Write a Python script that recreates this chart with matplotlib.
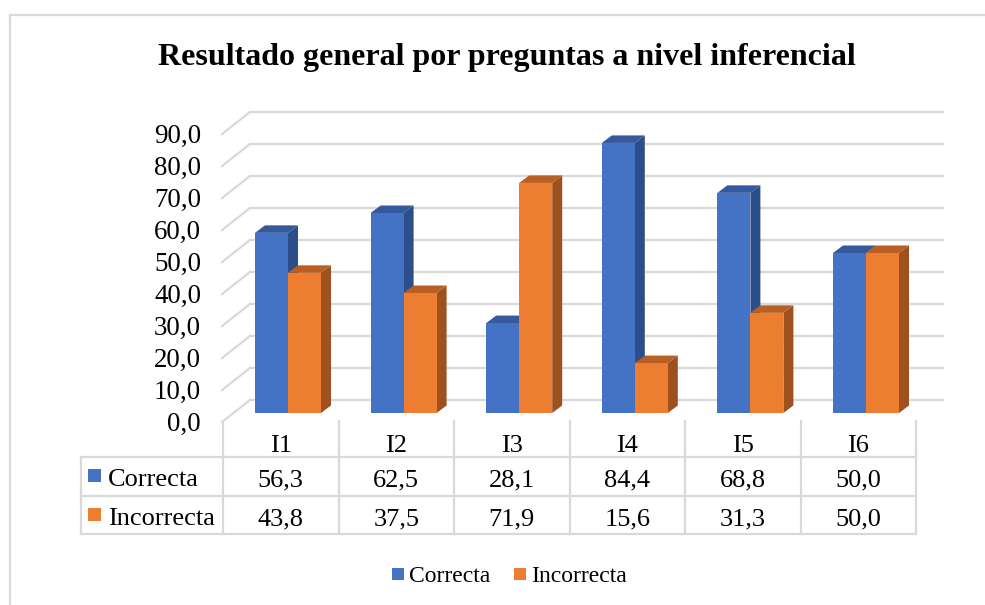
import matplotlib.pyplot as plt
from matplotlib.patches import Polygon, Rectangle

# data
categories = ['I1', 'I2', 'I3', 'I4', 'I5', 'I6']
correcta = [56.3, 62.5, 28.1, 84.4, 68.8, 50.0]
incorrecta = [43.8, 37.5, 71.9, 15.6, 31.3, 50.0]
series_names = ['Correcta', 'Incorrecta']
yticks = [0, 10, 20, 30, 40, 50, 60, 70, 80, 90]
title = 'Resultado general por preguntas a nivel inferencial'

# colours (front, side, top)
BLUE, BLUE_SIDE, BLUE_TOP = '#4472C4', '#2C4E8A', '#35599C'
ORANGE, ORANGE_SIDE, ORANGE_TOP = '#ED7D31', '#9E511F', '#B95F24'
GRID = '#D9D9D9'

plt.rcParams['font.family'] = ['Liberation Serif', 'DejaVu Serif']


def fmt(v):
    return f'{v:.1f}'.replace('.', ',')


W, H = 985, 605
fig = plt.figure(figsize=(W / 100, H / 100), dpi=100)

# overlay in pixel units for frame, title, table and legend
over = fig.add_axes([0, 0, 1, 1])
over.set_xlim(0, W)
over.set_ylim(H, 0)
over.axis('off')

# bar axes
x0, x1 = 230.2, 923.8
ytop, ybase = 125, 413
ax = fig.add_axes([x0 / W, (H - ybase) / H, (x1 - x0) / W, (ybase - ytop) / H])
ax.set_xlim(-0.5, len(categories) - 0.5)
ax.set_ylim(0, 90)
ax.axis('off')
ux = (x1 - x0) / len(categories)   # px per category
uy = (ybase - ytop) / 90           # px per value unit


def px2x(p):
    return -0.5 + (p - x0) / ux


# walls / gridlines (pseudo 3D)
xfl, xbl, xbr = px2x(222), px2x(250), px2x(943)
for v in yticks:
    yb = v + 13 / uy
    yf = v - 9 / uy
    ax.plot([xbl, xbr], [yb, yb], color=GRID, lw=1.6, zorder=0, clip_on=False)
    ax.plot([xfl, xbl], [yf, yb], color=GRID, lw=1.6, zorder=0, clip_on=False)
    ax.text(px2x(201), v - 17.5 / uy, fmt(v), ha='right', va='baseline',
            fontsize=19.4, clip_on=False)

# bars
w = 33 / ux
ddx, ddy = 10 / ux, 7.5 / uy
idx = list(range(len(categories)))
series = [(correcta, -w / 2, BLUE, BLUE_SIDE, BLUE_TOP, 2),
          (incorrecta, w / 2, ORANGE, ORANGE_SIDE, ORANGE_TOP, 5)]
for vals, off, c_front, c_side, c_top, z in series:
    for i, v in zip(idx, vals):
        xl, xr = i + off - w / 2, i + off + w / 2
        ax.add_patch(Polygon([(xr, 0), (xr, v), (xr + ddx, v + ddy), (xr + ddx, ddy)],
                             closed=True, facecolor=c_side, edgecolor='none',
                             zorder=z, clip_on=False))
        ax.add_patch(Polygon([(xl, v), (xr, v), (xr + ddx, v + ddy), (xl + ddx, v + ddy)],
                             closed=True, facecolor=c_top, edgecolor='none',
                             zorder=z, clip_on=False))
    ax.bar([i + off for i in idx], vals, w, color=c_front, zorder=z + 1, clip_on=False)

# frame
over.plot([10, W], [15, 15], color=GRID, lw=1.6)
over.plot([10, 10], [15, H], color=GRID, lw=1.6)

# title
over.text(506.5, 65, title, ha='center', va='baseline', fontsize=23,
          fontweight='bold')

# data table
col_edges = [223 + k * 115.5 for k in range(len(categories) + 1)]
for y in [457, 496, 534]:
    over.plot([81, col_edges[-1]], [y, y], color=GRID, lw=1.6)
for xe in col_edges:
    over.plot([xe, xe], [421, 534], color=GRID, lw=1.6)
over.plot([81, 81], [457, 534], color=GRID, lw=1.6)

for k, cat in enumerate(categories):
    xc = (col_edges[k] + col_edges[k + 1]) / 2
    over.text(xc, 452, cat, ha='center', va='baseline', fontsize=19)
    over.text(xc, 486, fmt(correcta[k]), ha='center', va='baseline', fontsize=19)
    over.text(xc, 525, fmt(incorrecta[k]), ha='center', va='baseline', fontsize=19)

for name, col, yb in [(series_names[0], BLUE, 486), (series_names[1], ORANGE, 525)]:
    over.add_patch(Rectangle((88, yb - 17), 13, 13, facecolor=col, edgecolor='none'))
    over.text(108, yb, name, ha='left', va='baseline', fontsize=19)

# legend
for name, col, xs in [(series_names[0], BLUE, 392), (series_names[1], ORANGE, 514)]:
    over.add_patch(Rectangle((xs, 568), 12, 12, facecolor=col, edgecolor='none'))
    over.text(xs + 17, 581.5, name, ha='left', va='baseline', fontsize=17)

fig.savefig('out.png', dpi=100)
